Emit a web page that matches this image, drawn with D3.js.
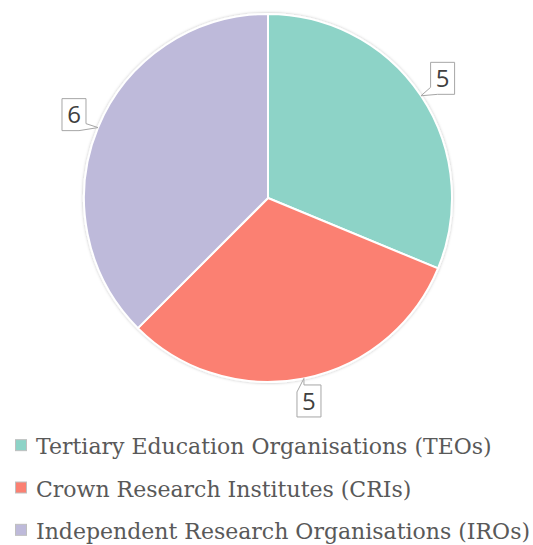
<!DOCTYPE html>
<html>
<head>
<meta charset="utf-8">
<script src="https://cdn.jsdelivr.net/npm/d3@7"></script>
<style>
  body { margin: 0; background: #fff; }
  svg { display: block; }
</style>
</head>
<body>
<div id="chart"></div>
<script>
const categories = [
  "Tertiary Education Organisations (TEOs)",
  "Crown Research Institutes (CRIs)",
  "Independent Research Organisations (IROs)",
];
const values = [5, 5, 6];
const colors = ["#8dd3c7", "#fb8072", "#bebada"];

const width = 533;
const height = 545;
const cx = 268;
const cy = 198;
const radius = 184;

const svg = d3
  .select("#chart")
  .append("svg")
  .attr("width", width)
  .attr("height", height);

const defs = svg.append("defs");
defs
  .append("filter")
  .attr("id", "shadow")
  .attr("x", "-10%")
  .attr("y", "-10%")
  .attr("width", "120%")
  .attr("height", "120%")
  .append("feDropShadow")
  .attr("dx", 0)
  .attr("dy", 0)
  .attr("stdDeviation", 1.5)
  .attr("flood-color", "#000")
  .attr("flood-opacity", 0.25);

const g = svg.append("g").attr("transform", `translate(${cx},${cy})`);

const pie = d3.pie().sort(null).value((d) => d);
const arcs = pie(values);

const arc = d3.arc().innerRadius(0).outerRadius(radius);

g.append("g")
  .attr("filter", "url(#shadow)")
  .selectAll("path")
  .data(arcs)
  .join("path")
  .attr("d", arc)
  .attr("fill", (d, i) => colors[i])
  .attr("stroke", "#fff")
  .attr("stroke-width", 2);

// data labels (callout boxes)
const boxW = 24;
const boxH = 32;
const labelR = 210;

function calloutPath(x0, y0, x1, y1, tx, ty) {
  const w = 7;
  // pick the corner nearest the tip
  const left = Math.abs(tx - x0) < Math.abs(tx - x1);
  const top = Math.abs(ty - y0) < Math.abs(ty - y1);
  const pts = [];
  const corners = [
    [x0, y0, "tl"],
    [x1, y0, "tr"],
    [x1, y1, "br"],
    [x0, y1, "bl"],
  ];
  const target = (top ? "t" : "b") + (left ? "l" : "r");
  corners.forEach(([x, y, name], i) => {
    if (name !== target) {
      pts.push([x, y]);
      return;
    }
    const prev = corners[(i + 3) % 4];
    const next = corners[(i + 1) % 4];
    const dx1 = Math.sign(prev[0] - x), dy1 = Math.sign(prev[1] - y);
    const dx2 = Math.sign(next[0] - x), dy2 = Math.sign(next[1] - y);
    pts.push([x + dx1 * w, y + dy1 * w]);
    pts.push([tx, ty]);
    pts.push([x + dx2 * w, y + dy2 * w]);
  });
  return "M" + pts.map((p) => p.join(",")).join("L") + "Z";
}

const labels = g.append("g").selectAll("g").data(arcs).join("g");

labels.each(function (d) {
  const a = (d.startAngle + d.endAngle) / 2;
  const bx = labelR * Math.sin(a);
  const by = -labelR * Math.cos(a) - 3;
  const tx = radius * Math.sin(a);
  const ty = -radius * Math.cos(a);
  const x0 = bx - boxW / 2, x1 = bx + boxW / 2;
  const y0 = by - boxH / 2, y1 = by + boxH / 2;
  const sel = d3.select(this);
  sel
    .append("path")
    .attr("d", calloutPath(x0, y0, x1, y1, tx, ty))
    .attr("fill", "#fff")
    .attr("stroke", "#a6a6a6")
    .attr("stroke-width", 1);
  sel
    .append("text")
    .attr("x", bx)
    .attr("y", by)
    .attr("dy", "0.36em")
    .attr("text-anchor", "middle")
    .style("font-family", "'Open Sans', sans-serif")
    .style("font-size", "24px")
    .style("fill", "#404040")
    .text(d.data);
});

// legend
const legendY = d3.scaleBand().domain(d3.range(categories.length)).range([425, 552]);

const legend = svg
  .append("g")
  .selectAll("g")
  .data(categories)
  .join("g")
  .attr("transform", (d, i) => `translate(0,${legendY(i) + legendY.bandwidth() / 2})`);

legend
  .append("rect")
  .attr("x", 15.5)
  .attr("y", -6.5)
  .attr("width", 11)
  .attr("height", 11)
  .attr("fill", (d, i) => colors[i])
  .attr("stroke", "#bfbfbf")
  .attr("stroke-width", 1);

legend
  .append("text")
  .attr("x", 36)
  .attr("y", 8)
  .style("font-family", "'DejaVu Serif', serif")
  .style("font-size", "22px")
  .style("fill", "#595959")
  .text((d) => d);
</script>
</body>
</html>
